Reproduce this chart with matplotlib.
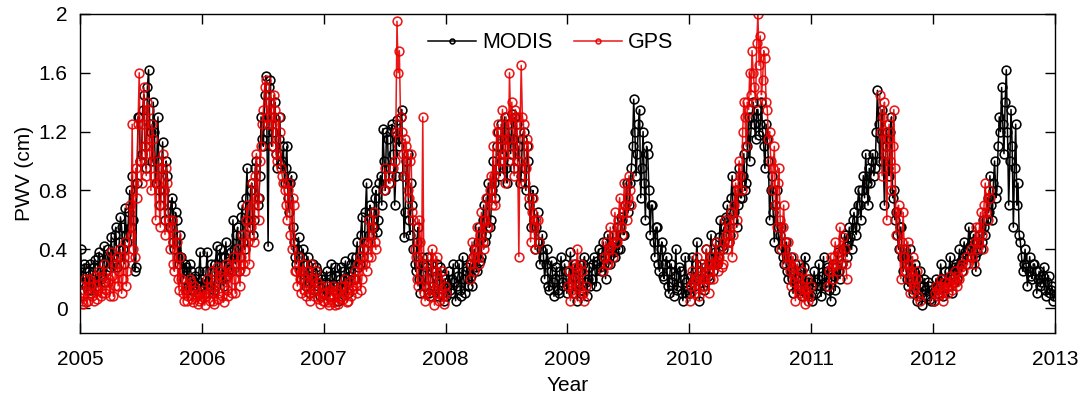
import numpy as np
import matplotlib
matplotlib.use("Agg")
import matplotlib.pyplot as plt

nan = np.nan
years = [2005, 2006, 2007, 2008, 2009, 2010, 2011, 2012]

# PWV values (cm), two samples per week (a = early, b = late), 52 weeks per year
modis_a = {
 2005: [0.40, 0.18, 0.27, 0.12, 0.30, 0.20, 0.33, 0.15, 0.38, 0.22, 0.42, 0.25, 0.35,
        0.48, 0.30, 0.55, 0.35, 0.62, 0.40, 0.68, 0.45, 0.80,
        0.90, 0.25, 0.85,
        1.30, 1.05, 1.45, 0.95, 1.62, 1.20, 1.40,
        0.85, 1.30, 0.70,
        1.13, 0.60, 0.90,
        0.55, 0.75, 0.40, 0.60, 0.30,
        0.35, 0.20, 0.28, 0.15, 0.25, 0.12, 0.22, 0.10, 0.38],
 2006: [0.20, 0.10, 0.38, 0.15, 0.25, 0.12, 0.42, 0.20, 0.35, 0.15, 0.45, 0.25, 0.38,
        0.60, 0.30, 0.55, 0.35,
        0.70, 0.40, 0.95, 0.55, 0.85, 0.60, 1.00, 0.75,
        1.30, 1.10, 1.58, 0.42, 1.55, 1.20, 1.40, 0.95, 1.30, 1.00,
        0.85, 1.10, 0.65, 0.90, 0.45,
        0.30, 0.48, 0.20, 0.40, 0.15, 0.35, 0.10, 0.30, 0.18, 0.25, 0.08, 0.22],
 2007: [0.10, 0.25, 0.08, 0.30, 0.12, 0.22, 0.05, 0.28, 0.15, 0.32, 0.10, 0.25, 0.35,
        0.20, 0.45, 0.30, 0.62, 0.40, 0.85, 0.50,
        0.65, 0.55, 0.80, 0.60, 0.90,
        1.22, 0.80, 1.15, 0.95, 1.25, 0.70, 1.28, 1.10,
        1.35, 0.48, 1.00, 0.60, 0.85,
        0.40, 0.25, 0.55, 0.10, 0.30,
        0.15, 0.35, 0.08, 0.25, 0.12, 0.30, 0.10, 0.22, 0.05],
 2008: [0.08, 0.25, 0.10, 0.30, 0.05, 0.22, 0.12, 0.35, 0.10, 0.28,
        0.30, 0.15, 0.40, 0.25, 0.55, 0.35, 0.70, 0.50, 0.85, 0.60,
        1.00, 0.75, 1.20, 0.90, 1.05, 1.30, 0.85, 1.15, 1.32, 0.95, 1.25, 1.10, 0.90, 1.20, 0.80, 1.00,
        0.55, 0.80, 0.40, 0.65, 0.30, 0.50,
        0.20, 0.40, 0.12, 0.32, 0.08, 0.28, 0.10, 0.35, 0.15, 0.25],
 2009: [0.15, 0.38, 0.10, 0.30, 0.05, 0.25, 0.12, 0.35, 0.08, 0.28,
        0.20, 0.35, 0.15, 0.40, 0.25, 0.45, 0.20, 0.50, 0.30, 0.45,
        0.35, 0.55, 0.40, 0.60, 0.50, 0.85, 0.70, 0.95,
        1.42, 0.90, 1.25, 0.75, 1.20, 0.60, 1.05, 0.50,
        0.70, 0.35, 0.55, 0.25, 0.45, 0.20,
        0.35, 0.10, 0.30, 0.08, 0.40, 0.15, 0.25, 0.05, 0.35, 0.12],
 2010: [0.10, 0.35, 0.15, 0.45, 0.05, 0.30, 0.12, 0.40, 0.20, 0.50, 0.25, 0.45,
        0.35, 0.60, 0.40, 0.55, 0.70, 0.50, 0.90, 0.65,
        0.55, 0.95, 0.75, 1.05, 0.85, 1.30,
        1.20, 1.40, 1.15, 1.35, 1.25, 1.20, 0.95, 1.15, 0.60, 0.90, 0.45, 0.80,
        0.40, 0.55, 0.30, 0.45, 0.20, 0.35, 0.10, 0.30, 0.15, 0.25, 0.08, 0.35, 0.12, 0.20],
 2011: [0.05, 0.25, 0.10, 0.30, 0.08, 0.35, 0.15, 0.28, 0.05, 0.30, 0.12, 0.38, 0.20,
        0.30, 0.50, 0.35, 0.55, 0.40, 0.65, 0.50,
        0.80, 0.60, 0.90, 1.05, 0.70, 0.85, 1.05, 0.95,
        1.48, 1.00, 1.35, 0.70, 1.20, 0.90, 1.30, 0.80,
        0.65, 0.40, 0.55, 0.25,
        0.35, 0.15, 0.40, 0.10, 0.30, 0.05, 0.25, 0.02, 0.20, 0.08, 0.15, 0.05],
 2012: [0.05, 0.20, 0.10, 0.30, 0.08, 0.25, 0.15, 0.35, 0.10, 0.28, 0.20, 0.40, 0.25,
        0.45, 0.30, 0.55, 0.35, 0.50, 0.25, 0.45, 0.40, 0.60, 0.50, 0.75,
        0.90, 0.60, 1.00, 0.80, 1.30, 1.50,
        1.05, 1.62, 0.70, 1.35, 0.55, 1.25, 0.85,
        0.45, 0.25, 0.40, 0.15, 0.35, 0.20, 0.30, 0.10, 0.25, 0.18, 0.28, 0.08, 0.22, 0.12, 0.05],
}

modis_b = {
 2005: [0.22, 0.30, 0.15, 0.25, 0.12, 0.28, 0.18, 0.35, 0.20, 0.30, 0.18, 0.40, 0.28,
        0.35, 0.50, 0.28, 0.45, 0.55, 0.30, 0.50, 0.65, 0.55,
        0.60, 0.28, 1.30,
        1.00, 1.35, 1.10, 1.50, 1.25, 1.00, 1.20,
        1.00, 0.80, 0.95,
        0.80, 1.00, 0.65,
        0.70, 0.45, 0.65, 0.35, 0.50,
        0.25, 0.30, 0.12, 0.30, 0.20, 0.18, 0.15, 0.25, 0.15],
 2006: [0.15, 0.25, 0.18, 0.30, 0.10, 0.30, 0.25, 0.40, 0.20, 0.35, 0.22, 0.32, 0.25,
        0.40, 0.50, 0.25, 0.62,
        0.45, 0.75, 0.60, 0.80, 0.50, 0.95, 0.70, 0.90,
        1.15, 1.45, 1.20, 1.50, 1.10, 1.30, 1.05, 1.15, 0.98, 1.10,
        0.95, 0.75, 0.85, 0.55, 0.35,
        0.40, 0.25, 0.35, 0.18, 0.30, 0.22, 0.25, 0.12, 0.28, 0.15, 0.20, 0.10],
 2007: [0.18, 0.12, 0.22, 0.15, 0.28, 0.10, 0.20, 0.12, 0.25, 0.18, 0.22, 0.30, 0.20,
        0.35, 0.28, 0.50, 0.35, 0.65, 0.45, 0.70,
        0.50, 0.75, 0.52, 0.85, 0.70,
        1.00, 1.20, 0.85, 1.22, 1.05, 0.90, 1.15, 1.30,
        0.90, 0.65, 1.05, 0.50, 0.70,
        0.30, 0.45, 0.20, 0.35, 0.15,
        0.28, 0.10, 0.30, 0.15, 0.22, 0.08, 0.28, 0.15, 0.20],
 2008: [0.15, 0.12, 0.20, 0.18, 0.15, 0.30, 0.08, 0.20, 0.25, 0.15,
        0.22, 0.35, 0.28, 0.45, 0.32, 0.60, 0.45, 0.75, 0.55, 0.80,
        0.85, 1.10, 0.95, 1.25, 1.15, 0.95, 1.25, 1.05, 1.15, 1.30, 1.00, 0.85, 1.15, 0.95, 1.10, 0.70,
        0.75, 0.60, 0.55, 0.45, 0.40, 0.35,
        0.30, 0.15, 0.25, 0.18, 0.20, 0.12, 0.25, 0.18, 0.30, 0.10],
 2009: [0.25, 0.20, 0.22, 0.15, 0.18, 0.12, 0.30, 0.18, 0.20, 0.15,
        0.30, 0.25, 0.32, 0.28, 0.38, 0.30, 0.40, 0.35, 0.42, 0.38,
        0.45, 0.40, 0.62, 0.50, 0.70, 0.65, 0.85, 1.10,
        1.20, 1.05, 1.35, 0.95, 0.85, 1.10, 0.80, 0.70,
        0.45, 0.55, 0.30, 0.40, 0.22, 0.30,
        0.15, 0.25, 0.18, 0.22, 0.12, 0.28, 0.10, 0.20, 0.18, 0.10],
 2010: [0.22, 0.18, 0.30, 0.20, 0.25, 0.15, 0.28, 0.22, 0.35, 0.30, 0.38, 0.30,
        0.48, 0.42, 0.55, 0.62, 0.45, 0.75, 0.60, 0.80,
        0.70, 0.75, 0.90, 0.80, 1.10, 1.00,
        1.30, 1.25, 1.35, 1.18, 1.40, 1.10, 1.25, 1.00, 0.80, 0.65, 0.70, 0.55,
        0.50, 0.35, 0.40, 0.25, 0.30, 0.20, 0.25, 0.15, 0.22, 0.12, 0.28, 0.10, 0.18, 0.08],
 2011: [0.15, 0.18, 0.20, 0.15, 0.22, 0.18, 0.25, 0.12, 0.20, 0.22, 0.28, 0.25, 0.30,
        0.40, 0.42, 0.45, 0.48, 0.60, 0.55, 0.70,
        0.70, 0.80, 0.75, 0.85, 0.95, 1.00, 0.90, 1.20,
        1.25, 1.15, 1.00, 1.10, 0.95, 1.20, 0.75, 0.60,
        0.50, 0.55, 0.35, 0.40,
        0.20, 0.28, 0.18, 0.25, 0.12, 0.20, 0.10, 0.15, 0.12, 0.18, 0.06, 0.12],
 2012: [0.12, 0.15, 0.18, 0.20, 0.15, 0.18, 0.25, 0.22, 0.18, 0.30, 0.28, 0.32, 0.35,
        0.38, 0.40, 0.42, 0.45, 0.35, 0.38, 0.50, 0.45, 0.55, 0.60, 0.65,
        0.70, 0.85, 0.75, 1.10, 1.20, 1.25,
        1.40, 1.20, 1.00, 1.10, 0.95, 0.70, 0.50,
        0.35, 0.30, 0.28, 0.25, 0.22, 0.30, 0.25, 0.20, 0.15, 0.22, 0.12, 0.18, 0.10, 0.15, 0.08],
}

gps_a = {
 2005: [0.10, 0.03, 0.20, 0.05, 0.15, 0.08, 0.22, 0.06, 0.25, 0.10, 0.30, 0.12, 0.20,
        0.38, 0.08, 0.30, 0.15, 0.40, 0.20, 0.45, 0.25, 0.70,
        1.25, 0.35, 0.75,
        1.60, 0.85, 1.50, 0.90, 1.35, 0.80, 1.15,
        0.60, 1.00, 0.55,
        1.05, 0.50, 0.85,
        0.40, 0.60, 0.25, 0.45, 0.12,
        0.20, 0.05, 0.15, 0.08, 0.18, 0.04, 0.12, 0.03, 0.10],
 2006: [0.08, 0.02, 0.20, 0.05, 0.25, 0.03, 0.28, 0.10, 0.22, 0.04, 0.30, 0.08, 0.25,
        0.35, 0.10, 0.40, 0.15,
        0.50, 0.25, 0.70, 0.30, 0.85, 0.45, 1.05, 0.60,
        1.10, 1.35, 1.55, 1.25, 1.45, 1.10, 1.35, 1.00, 1.20, 0.90,
        0.80, 0.60, 0.85, 0.40, 0.70,
        0.25, 0.35, 0.10, 0.30, 0.08, 0.25, 0.05, 0.20, 0.12, 0.18, 0.03, 0.10],
 2007: [0.05, 0.15, 0.02, 0.12, 0.04, 0.10, 0.03, 0.15, 0.06, 0.20, 0.05, 0.18, 0.12,
        0.25, 0.10, 0.35, 0.20, 0.45, 0.25, 0.60,
        0.35, 0.65, 0.40, nan, nan,
        nan, 0.95, nan, 0.85, nan, 1.00, 1.95, 1.75,
        1.20, 0.90, 1.10, 0.75, 1.05,
        0.60, 0.35, 0.15, 0.45, 1.30,
        0.05, 0.30, 0.08, 0.40, 0.02, 0.35, 0.05, 0.25, 0.03],
 2008: [0.10, nan, nan, nan, nan, nan, nan, nan, nan, nan,
        0.20, 0.45, 0.25, 0.55, 0.30, 0.65, 0.40, 0.75, 0.55, 0.90,
        1.10, 0.70, 1.25, 1.00, 1.35, 0.85, 1.15, 1.60, 1.40, 0.90, 1.30, 0.35, 1.65, 1.25, 0.95, 1.10,
        0.45, 0.75, 0.40, 0.60, nan, nan,
        nan, nan, nan, nan, nan, nan, nan, nan, nan, nan],
 2009: [0.15, 0.05, 0.30, 0.10, 0.40, 0.08, 0.25, 0.05,
        nan, nan, nan, nan, nan, nan, nan,
        0.25, 0.45, 0.30, 0.55, 0.35, 0.65, 0.45, 0.75, 0.50, 0.85, 0.60, 0.90, 0.70,
        nan, nan, nan, nan, nan, nan, nan, nan, nan, nan, nan, nan,
        nan, nan, nan, nan, nan, nan, nan, nan, nan, nan, nan, nan],
 2010: [0.05, 0.25, 0.10, 0.35, 0.08, 0.30, 0.15, 0.40, 0.10, 0.30, 0.20, 0.45, 0.25, 0.40,
        0.30, 0.60, 0.40, 0.55, 0.35, 0.70,
        0.60, 1.00, 0.80, 1.40, 1.10, 1.35,
        1.45, 1.60, 1.40, 2.00, 1.85, 1.55, 1.70, 1.35, 1.20, 0.80, 1.10, 0.55,
        0.95, 0.40, 0.70, 0.30, 0.45, 0.15, 0.35, 0.05, 0.30, 0.10, 0.25, 0.03, 0.20, 0.08],
 2011: [nan, nan, nan, nan, nan, nan, nan,
        0.15, 0.35, 0.20, 0.45, 0.25, 0.55, 0.30, 0.40, 0.20,
        nan, nan, nan, nan, nan, nan, nan, nan, nan, nan, nan, nan, nan,
        1.45, 0.90, 1.40, 0.60, 1.25, 0.80, 1.35, 0.50, 0.70,
        0.20, 0.65, 0.25, 0.45, 0.10, 0.35, 0.15, 0.25, 0.05, nan, nan, nan, nan, nan],
 2012: [0.05, 0.15, 0.08, 0.20, 0.05, 0.18, 0.10, 0.22, 0.12, 0.25, 0.15, 0.20,
        0.30, nan, 0.35, nan, 0.40,
        0.30, 0.55, 0.45, 0.65, 0.40, 0.85, 0.60, 0.75,
        nan, nan, nan, nan, nan, nan, nan, nan, nan, nan, nan, nan, nan, nan,
        nan, nan, nan, nan, nan, nan, nan, nan, nan, nan, nan, nan, nan],
}

gps_b = {
 2005: [0.05, 0.12, 0.04, 0.20, 0.10, 0.05, 0.15, 0.12, 0.08, 0.22, 0.10, 0.18, 0.08,
        0.22, 0.15, 0.35, 0.25, 0.10, 0.35, 0.15, 0.35, 0.50,
        0.40, 0.95, 1.25,
        1.00, 1.25, 1.10, 1.40, 1.05, 1.25, 0.90,
        0.85, 0.70, 0.95,
        0.80, 0.95, 0.60,
        0.55, 0.30, 0.50, 0.20, 0.35,
        0.10, 0.12, 0.05, 0.20, 0.06, 0.15, 0.08, 0.05, 0.06],
 2006: [0.12, 0.08, 0.10, 0.15, 0.05, 0.18, 0.06, 0.25, 0.08, 0.20, 0.12, 0.28, 0.10,
        0.20, 0.30, 0.25, 0.35,
        0.30, 0.60, 0.45, 0.55, 0.70, 0.90, 0.75, 1.00,
        1.25, 1.50, 1.30, 1.40, 1.25, 1.45, 1.05, 1.30, 0.95, 0.85,
        0.70, 0.80, 0.50, 0.75, 0.25,
        0.15, 0.20, 0.25, 0.12, 0.18, 0.10, 0.30, 0.08, 0.25, 0.06, 0.15, 0.05],
 2007: [0.10, 0.04, 0.08, 0.15, 0.02, 0.12, 0.06, 0.08, 0.15, 0.04, 0.12, 0.08, 0.20,
        0.15, 0.30, 0.12, 0.40, 0.30, 0.35, 0.45,
        0.55, 0.45, nan, nan, nan,
        0.80, nan, 0.90, nan, 0.95, 1.20, 1.60, 1.30,
        1.05, 1.15, 0.80, 1.00, 0.65,
        0.40, 0.20, 0.60, 0.30, 0.10,
        0.20, 0.15, 0.35, 0.12, 0.25, 0.10, 0.18, 0.08, 0.15],
 2008: [nan, nan, nan, nan, nan, nan, nan, nan, nan, nan,
        0.30, 0.35, 0.40, 0.35, 0.50, 0.45, 0.60, 0.55, 0.80, 0.70,
        0.90, 1.20, 0.95, 1.15, 1.05, 1.30, 1.00, 1.25, 1.10, 1.35, 1.00, 1.20, 1.30, 0.85, 1.15, 0.75,
        0.65, 0.55, 0.60, 0.45, nan, nan,
        nan, nan, nan, nan, nan, nan, nan, nan, nan, nan],
 2009: [0.25, 0.12, 0.20, 0.28, 0.18, 0.30, 0.10, 0.15,
        nan, nan, nan, nan, nan, nan, nan,
        0.35, 0.30, 0.40, 0.42, 0.50, 0.45, 0.60, 0.55, 0.65, 0.70, 0.75, 0.80, nan,
        nan, nan, nan, nan, nan, nan, nan, nan, nan, nan, nan, nan,
        nan, nan, nan, nan, nan, nan, nan, nan, nan, nan, nan, nan],
 2010: [0.15, 0.18, 0.20, 0.22, 0.15, 0.20, 0.28, 0.25, 0.20, 0.35, 0.30, 0.32, 0.35, 0.28,
        0.45, 0.50, 0.45, 0.65, 0.50, 0.85,
        0.80, 0.90, 1.20, 1.30, 1.40, 1.60,
        1.75, 1.50, 1.80, 1.65, 1.45, 1.75, 1.40, 1.15, 1.00, 0.95, 0.70, 0.85,
        0.60, 0.55, 0.45, 0.35, 0.25, 0.28, 0.18, 0.22, 0.12, 0.15, 0.08, 0.12, 0.05, 0.15],
 2011: [nan, nan, nan, nan, nan, nan, nan,
        0.25, 0.28, 0.35, 0.30, 0.40, 0.38, 0.48, 0.30, nan,
        nan, nan, nan, nan, nan, nan, nan, nan, nan, nan, nan, nan, nan,
        1.20, 1.30, 1.05, 1.15, 1.00, 1.10, 0.95, 0.65, 0.40,
        0.45, 0.35, 0.30, 0.20, 0.25, 0.12, 0.20, 0.08, nan, nan, nan, nan, nan, nan],
 2012: [0.10, 0.12, 0.15, 0.10, 0.12, 0.14, 0.18, 0.15, 0.20, 0.18, 0.22, 0.28,
        0.25, nan, 0.30, nan, 0.35,
        0.45, 0.40, 0.55, 0.50, 0.70, 0.65, 0.80, nan,
        nan, nan, nan, nan, nan, nan, nan, nan, nan, nan, nan, nan, nan, nan,
        nan, nan, nan, nan, nan, nan, nan, nan, nan, nan, nan, nan, nan],
}

def series(da, db):
    t, v = [], []
    for y in years:
        a, b = da[y], db[y]
        n = len(a)
        for i in range(n):
            t.append(y + (i + 0.25) / n)
            v.append(a[i])
            if i < len(b):
                t.append(y + (i + 0.75) / n)
                v.append(b[i])
    return np.array(t), np.array(v, dtype=float)

tm, vm = series(modis_a, modis_b)
tg, vg = series(gps_a, gps_b)

plt.rcParams['font.family'] = ['Liberation Sans', 'DejaVu Sans']

fig = plt.figure(figsize=(10.83, 3.97), dpi=100)
ax = fig.add_axes([0.0739, 0.161, 0.9002, 0.804])

ax.plot(tm, vm, '-o', color='black', lw=1.1, ms=6.3, mfc='none', mew=1.15, label='MODIS')
ax.plot(tg, vg, '-o', color='#e80000', lw=1.1, ms=6.3, mfc='none', mew=1.15, alpha=0.9, label='GPS')

ax.set_xlim(2005, 2013)
ax.set_ylim(-0.17, 2.0)
ax.set_xticks(list(range(2005, 2014)))
ax.set_xticklabels([str(y) for y in range(2005, 2014)])
ax.set_yticks([0, 0.4, 0.8, 1.2, 1.6, 2.0])
ax.set_yticklabels(['0', '0.4', '0.8', '1.2', '1.6', '2'])
ax.tick_params(direction='in', top=True, right=True, length=7, width=1, labelsize=15)
ax.tick_params(axis='x', pad=12)
ax.tick_params(axis='y', pad=9)
for s in ax.spines.values():
    s.set_linewidth(1.0)
ax.set_xlabel('Year', fontsize=15, labelpad=5)
ax.set_ylabel('PWV (cm)', fontsize=15, labelpad=3)

leg = ax.legend(loc='center', bbox_to_anchor=(0.483, 0.91), ncol=2, frameon=False,
                fontsize=15.5, handlelength=2.2, columnspacing=1.0, handletextpad=0.3,
                borderpad=0.2)
for h in leg.legend_handles:
    h.set_markersize(3.5)

fig.savefig('out.png', dpi=100)
